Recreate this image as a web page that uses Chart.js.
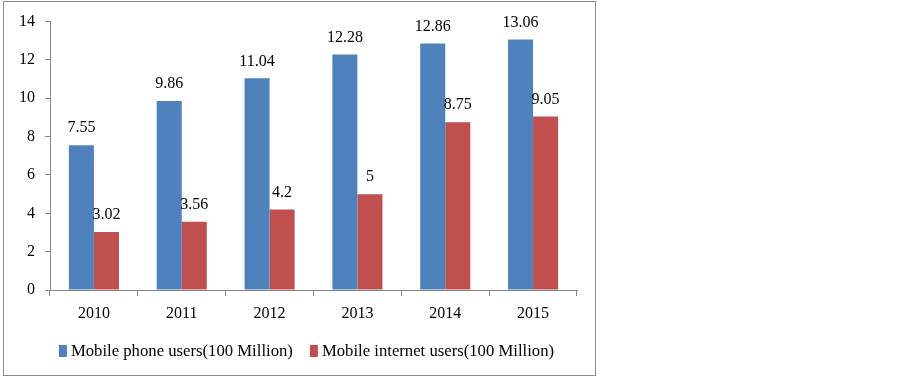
<!DOCTYPE html>
<html>
<head>
<meta charset="utf-8">
<script src="https://cdn.jsdelivr.net/npm/chart.js@4/dist/chart.umd.min.js"></script>
<style>
  html, body { margin: 0; padding: 0; background: #fff; }
  body { width: 903px; height: 377px; position: relative; overflow: hidden; }
  #box {
    position: absolute; left: 3px; top: 1px;
    width: 591px; height: 373px;
    border: 1px solid #8c8c8c;
  }
</style>
</head>
<body>
<div id="box"><canvas id="grafico" width="591" height="373"></canvas></div>
<script>
const years = ["2010", "2011", "2012", "2013", "2014", "2015"];
const phoneUsers = [7.55, 9.86, 11.04, 12.28, 12.86, 13.06];
const internetUsers = [3.02, 3.56, 4.2, 5, 8.75, 9.05];
const seriesNames = ["Mobile phone users(100 Million)", "Mobile internet users(100 Million)"];

const serif = "'Liberation Serif', 'Times New Roman', serif";

// etiquetas de valor encima de cada barra
const etiquetas = {
  id: "etiquetas",
  afterDatasetsDraw(chart) {
    const ctx = chart.ctx;
    ctx.save();
    ctx.font = "16px " + serif;
    ctx.fillStyle = "#000";
    ctx.textAlign = "center";
    ctx.textBaseline = "middle";
    chart.data.datasets.forEach((ds, i) => {
      chart.getDatasetMeta(i).data.forEach((bar, j) => {
        ctx.fillText(String(ds.data[j]), bar.x, bar.y - 17);
      });
    });
    ctx.restore();
  }
};

// leyenda dibujada a mano, para que quede como en la imagen
const leyenda = {
  id: "leyenda",
  afterDraw(chart) {
    const ctx = chart.ctx;
    ctx.save();
    ctx.font = "16.7px " + serif;
    ctx.textBaseline = "middle";
    ctx.textAlign = "left";
    const box = 8, gap = 4, sep = 17;
    const items = chart.data.datasets.map(ds => ({
      text: ds.label, color: ds.backgroundColor, w: ctx.measureText(ds.label).width
    }));
    const total = items.reduce((s, it) => s + box + gap + it.w, 0) + sep * (items.length - 1);
    let x = 302.5 - total / 2;
    const y = 349;
    items.forEach(it => {
      ctx.fillStyle = it.color;
      ctx.fillRect(x, y - 6, box, 12);
      x += box + gap;
      ctx.fillStyle = "#000";
      ctx.fillText(it.text, x, y + 1);
      x += it.w + sep;
    });
    ctx.restore();
  }
};

new Chart(document.getElementById("grafico"), {
  type: "bar",
  data: {
    labels: years,
    datasets: [
      { label: seriesNames[0], data: phoneUsers, backgroundColor: "#4f81bd" },
      { label: seriesNames[1], data: internetUsers, backgroundColor: "#c0504d" }
    ]
  },
  options: {
    responsive: false,
    animation: false,
    layout: { padding: { top: 18, right: 18, bottom: 41, left: 0 } },
    datasets: { bar: { categoryPercentage: 0.57, barPercentage: 1.0 } },
    scales: {
      x: {
        afterFit: s => { s.height = 44; },
        grid: { drawOnChartArea: false, offset: true, tickLength: 6, color: "#868686" },
        border: { color: "#868686" },
        ticks: { color: "#000", padding: 8, font: { family: serif, size: 16 } }
      },
      y: {
        min: 0,
        max: 14,
        afterFit: s => { s.width = 46; },
        grid: { drawOnChartArea: false, tickLength: 5, color: "#868686" },
        border: { color: "#868686" },
        ticks: { stepSize: 2, color: "#000", padding: 10, font: { family: serif, size: 16 } }
      }
    },
    plugins: {
      tooltip: { enabled: false },
      legend: { display: false }
    }
  },
  plugins: [etiquetas, leyenda]
});
</script>
</body>
</html>
